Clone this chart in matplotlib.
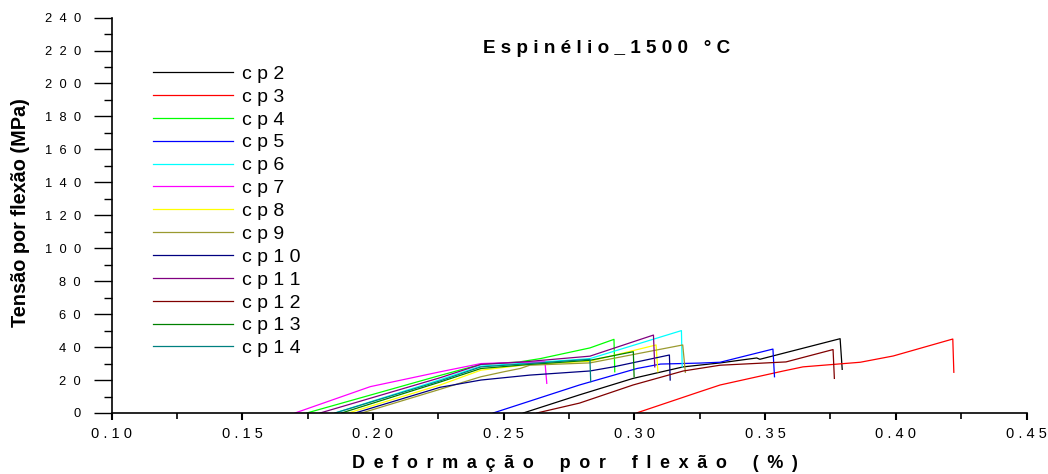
import matplotlib
matplotlib.use("Agg")
import matplotlib.pyplot as plt
from matplotlib.ticker import MultipleLocator, FixedLocator

plt.rcParams['font.family'] = ['Liberation Sans', 'DejaVu Sans']

labels = ["c p 2", "c p 3", "c p 4", "c p 5", "c p 6", "c p 7", "c p 8",
          "c p 9", "c p 1 0", "c p 1 1", "c p 1 2", "c p 1 3", "c p 1 4"]
colors = ["#000000", "#ff0000", "#00ff00", "#0000ff", "#00ffff", "#ff00ff",
          "#ffff00", "#9a9a30", "#000080", "#800080", "#800000", "#008000", "#008080"]

# strain (%) and stress (MPa)
cp2_x = [0.2575, 0.279, 0.2995, 0.3187, 0.3328, 0.3468, 0.348, 0.3787, 0.3795]
cp2_y = [0, 11, 21, 28, 30.4, 33.4, 32.6, 45.1, 26.5]
cp3_x = [0.3008, 0.325, 0.3328, 0.357, 0.3645, 0.3825, 0.3864, 0.399, 0.4218, 0.4222]
cp3_y = [0, 12.9, 17, 25.5, 28, 30.3, 30.8, 34.6, 44.9, 24.7]
cp4_x = [0.1747, 0.2257, 0.2413, 0.256, 0.264, 0.283, 0.2922, 0.2925]
cp4_y = [0, 22.8, 29.5, 31, 33, 39.5, 44.7, 25]
cp5_x = [0.246, 0.279, 0.301, 0.31, 0.325, 0.3328, 0.353, 0.3536]
cp5_y = [0, 17, 27, 29.7, 30.3, 30.8, 38.8, 22]
cp6_x = [0.1855, 0.2257, 0.2413, 0.256, 0.283, 0.318, 0.3183]
cp6_y = [0, 20.2, 28.5, 30, 33, 50, 28]
cp7_x = [0.1702, 0.199, 0.2257, 0.2413, 0.256, 0.2658, 0.2665]
cp7_y = [0, 16, 25, 30, 30.8, 31, 18]
cp8_x = [0.1906, 0.2257, 0.2413, 0.26, 0.283, 0.3083, 0.309]
cp8_y = [0, 17, 26, 29.5, 31.4, 41.3, 25]
cp9_x = [0.1957, 0.2257, 0.2413, 0.25, 0.2563, 0.26, 0.283, 0.3185, 0.3195]
cp9_y = [0, 14.4, 22, 25, 27, 29, 30.4, 41.3, 24.7]
cp10_x = [0.1932, 0.2257, 0.2413, 0.26, 0.283, 0.292, 0.3134, 0.3137]
cp10_y = [0, 15.6, 20, 23, 25.5, 28, 35.2, 20]
cp11_x = [0.1798, 0.2257, 0.2413, 0.256, 0.283, 0.3073, 0.3078]
cp11_y = [0, 21.4, 29.5, 30.8, 34.5, 47.3, 28]
cp12_x = [0.2627, 0.279, 0.2995, 0.3187, 0.3328, 0.358, 0.376, 0.3765]
cp12_y = [0, 6, 17, 25.5, 29, 31, 38.5, 21]
cp13_x = [0.188, 0.2257, 0.2413, 0.26, 0.283, 0.2996, 0.2999]
cp13_y = [0, 18.8, 27, 29.5, 32, 37.2, 22]
cp14_x = [0.1855, 0.2257, 0.2413, 0.26, 0.283, 0.2833]
cp14_y = [0, 19.5, 28, 30, 32.6, 19]

xs = [cp2_x, cp3_x, cp4_x, cp5_x, cp6_x, cp7_x, cp8_x, cp9_x, cp10_x, cp11_x, cp12_x, cp13_x, cp14_x]
ys = [cp2_y, cp3_y, cp4_y, cp5_y, cp6_y, cp7_y, cp8_y, cp9_y, cp10_y, cp11_y, cp12_y, cp13_y, cp14_y]

x_ticks = [0.10, 0.15, 0.20, 0.25, 0.30, 0.35, 0.40, 0.45]
x_ticklabels = ["0 . 1 0", "0 . 1 5", "0 . 2 0", "0 . 2 5", "0 . 3 0", "0 . 3 5", "0 . 4 0", "0 . 4 5"]
y_ticks = [0, 20, 40, 60, 80, 100, 120, 140, 160, 180, 200, 220, 240]
y_ticklabels = ["0", "2  0", "4  0", "6  0", "8  0", "1  0  0", "1  2  0", "1  4  0",
                "1  6  0", "1  8  0", "2  0  0", "2  2  0", "2  4  0"]

T = "\u2009"
xlabel_text = "D e f o r m a ç ã o   p o r   f l e x ã o   ( % )"
xlabel_text = xlabel_text.replace(" ", " " + T)
title_text = "E s p i n é l i o _ 1 5 0 0   ° C"

fig = plt.figure(figsize=(10.48, 4.74), dpi=100)
ax = fig.add_axes([0.1064, 0.1287, 0.8731, 0.8342])

for x, y, c, lab in zip(xs, ys, colors, labels):
    ax.plot(x, y, color=c, lw=0.9, label=lab)

ax.set_xlim(0.10, 0.45)
ax.set_ylim(0, 240)
ax.spines['top'].set_visible(False)
ax.spines['right'].set_visible(False)
ax.spines['left'].set_linewidth(1.2)
ax.spines['bottom'].set_linewidth(1.2)

ax.xaxis.set_major_locator(FixedLocator(x_ticks))
ax.set_xticklabels(x_ticklabels, fontsize=10.5)
ax.xaxis.set_minor_locator(MultipleLocator(0.025))
ax.yaxis.set_major_locator(FixedLocator(y_ticks))
ax.set_yticklabels(y_ticklabels, fontsize=9.3)
ax.yaxis.set_minor_locator(MultipleLocator(10))
ax.tick_params(axis='x', which='major', length=5, width=1.5, pad=5)
ax.tick_params(axis='x', which='minor', length=4, width=1.2)
ax.tick_params(axis='y', which='major', length=13, width=1.0, pad=9)
ax.tick_params(axis='y', which='minor', length=6, width=1.0)

ax.set_xlabel(xlabel_text, fontsize=13, fontweight='bold', va='center')
ax.xaxis.set_label_coords(0.5066, -0.1265)
ax.set_ylabel("Tensão por flexão (MPa)", fontsize=14.3, fontweight='bold', va='center')
ax.yaxis.set_label_coords(-0.100, 0.506)

ax.text(0.541, 0.921, title_text, transform=ax.transAxes,
        ha='center', va='center', fontsize=13.6, fontweight='bold')

leg = ax.legend(loc='upper left', bbox_to_anchor=(0.0368, 0.899), frameon=False,
                fontsize=14, handlelength=4.1, handletextpad=0.5, labelspacing=0.27,
                borderaxespad=0)

fig.savefig("out.png", dpi=100)
